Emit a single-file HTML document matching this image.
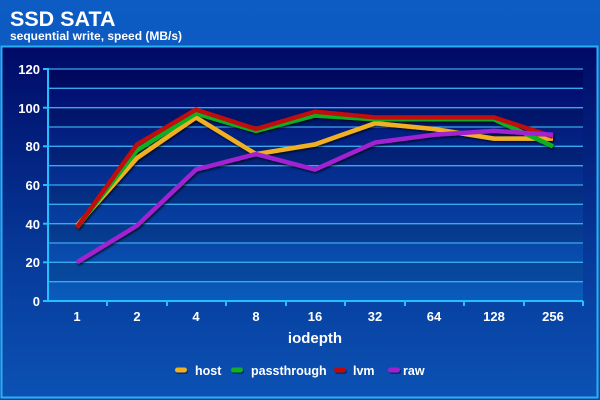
<!DOCTYPE html>
<html><head><style>
html,body{margin:0;padding:0;width:600px;height:400px;overflow:hidden;background:#0a4fb0}
text{font-family:"Liberation Sans",Arial,sans-serif;font-weight:bold;fill:#fff}
</style></head><body>
<svg width="600" height="400" viewBox="0 0 600 400" xmlns="http://www.w3.org/2000/svg">
<defs>
<linearGradient id="bg" x1="0" y1="0" x2="0" y2="1">
<stop offset="0" stop-color="#0c5cc4"/><stop offset="1" stop-color="#0a4aae"/></linearGradient>
<linearGradient id="pn" x1="0" y1="0" x2="0" y2="1">
<stop offset="0" stop-color="#000a66"/><stop offset="0.6" stop-color="#063a9a"/><stop offset="1" stop-color="#0b52b4"/></linearGradient>
<linearGradient id="pl" x1="0" y1="0" x2="0" y2="1">
<stop offset="0" stop-color="#00086a"/><stop offset="1" stop-color="#0a5cbc"/></linearGradient>
<filter id="sh" x="-10%" y="-10%" width="120%" height="120%"><feDropShadow dx="1" dy="1.5" stdDeviation="1" flood-color="#000" flood-opacity="0.7"/></filter>
</defs>
<rect width="600" height="400" fill="url(#bg)"/>
<text x="10" y="26" font-size="21.5">SSD SATA</text>
<text x="10" y="40" font-size="12">sequential write, speed (MB/s)</text>
<rect x="1.5" y="46.5" width="596" height="351" fill="url(#pn)" stroke="#2ab0f0" stroke-width="2"/>
<rect x="48" y="69" width="535" height="232" fill="url(#pl)"/>
<g fill="#000" opacity="0.12">
<rect x="48" y="69" width="535" height="19.3"/><rect x="48" y="107.7" width="535" height="19.3"/><rect x="48" y="146.3" width="535" height="19.3"/><rect x="48" y="185" width="535" height="19.3"/><rect x="48" y="223.7" width="535" height="19.3"/><rect x="48" y="262.3" width="535" height="19.3"/>
</g>
<g stroke="#3aa8ee" stroke-width="1.3">
<line x1="48" y1="69" x2="583" y2="69"/><line x1="48" y1="88.3" x2="583" y2="88.3"/><line x1="48" y1="107.7" x2="583" y2="107.7"/><line x1="48" y1="127" x2="583" y2="127"/><line x1="48" y1="146.3" x2="583" y2="146.3"/><line x1="48" y1="165.7" x2="583" y2="165.7"/><line x1="48" y1="185" x2="583" y2="185"/><line x1="48" y1="204.3" x2="583" y2="204.3"/><line x1="48" y1="223.7" x2="583" y2="223.7"/><line x1="48" y1="243" x2="583" y2="243"/><line x1="48" y1="262.3" x2="583" y2="262.3"/><line x1="48" y1="281.7" x2="583" y2="281.7"/>
</g>
<g stroke="#22c0ff" stroke-width="2">
<line x1="48" y1="68" x2="48" y2="302"/><line x1="47" y1="301" x2="583" y2="301"/>
<line x1="43" y1="69" x2="48" y2="69"/><line x1="43" y1="107.7" x2="48" y2="107.7"/><line x1="43" y1="146.3" x2="48" y2="146.3"/><line x1="43" y1="185" x2="48" y2="185"/><line x1="43" y1="223.7" x2="48" y2="223.7"/><line x1="43" y1="262.3" x2="48" y2="262.3"/><line x1="43" y1="301" x2="48" y2="301"/>
<line x1="107" y1="301" x2="107" y2="306"/><line x1="167" y1="301" x2="167" y2="306"/><line x1="226" y1="301" x2="226" y2="306"/><line x1="286" y1="301" x2="286" y2="306"/><line x1="345" y1="301" x2="345" y2="306"/><line x1="405" y1="301" x2="405" y2="306"/><line x1="464" y1="301" x2="464" y2="306"/><line x1="524" y1="301" x2="524" y2="306"/><line x1="583" y1="301" x2="583" y2="306"/>
</g>
<g font-size="13" text-anchor="end">
<text x="40" y="74">120</text><text x="40" y="113">100</text><text x="40" y="151">80</text><text x="40" y="190">60</text><text x="40" y="229">40</text><text x="40" y="267">20</text><text x="40" y="306">0</text>
</g>
<g font-size="13" text-anchor="middle">
<text x="77" y="321">1</text><text x="137" y="321">2</text><text x="196" y="321">4</text><text x="256" y="321">8</text><text x="315" y="321">16</text><text x="375" y="321">32</text><text x="434" y="321">64</text><text x="494" y="321">128</text><text x="553" y="321">256</text>
<text x="315" y="343" font-size="15">iodepth</text>
</g>
<g fill="none" stroke-width="4.5" stroke-linejoin="round" filter="url(#sh)">
<polyline stroke="#f0b020" points="77,225.6 137,158 196,117.4 256,154.1 315,144.4 375,123.2 434,129 494,138.6 553,138.6"/>
<polyline stroke="#10b020" points="77,227.5 137,150.3 196,113.5 256,130.9 315,115.5 375,119.3 434,119.3 494,119.3 553,146.3"/>
<polyline stroke="#c00808" points="77,227.5 137,144.4 196,109.6 256,129 315,111.6 375,117.4 434,117.4 494,117.4 553,136.7"/>
<polyline stroke="#a020d0" points="77,262.3 137,225.6 196,169.6 256,154.1 315,169.6 375,142.5 434,134.8 494,130.9 553,134.8"/>
</g>
<g>
<rect x="175" y="367.5" width="12" height="5" rx="2.5" fill="#0a2a70" transform="translate(1,1.5)"/>
<rect x="175" y="367.5" width="12" height="5" rx="2.5" fill="#f0b020"/>
<rect x="231" y="367.5" width="12" height="5" rx="2.5" fill="#0a2a70" transform="translate(1,1.5)"/>
<rect x="231" y="367.5" width="12" height="5" rx="2.5" fill="#10b020"/>
<rect x="334" y="367.5" width="12" height="5" rx="2.5" fill="#0a2a70" transform="translate(1,1.5)"/>
<rect x="334" y="367.5" width="12" height="5" rx="2.5" fill="#c00808"/>
<rect x="388" y="367.5" width="12" height="5" rx="2.5" fill="#0a2a70" transform="translate(1,1.5)"/>
<rect x="388" y="367.5" width="12" height="5" rx="2.5" fill="#a020d0"/>
</g>
<g font-size="12.5">
<text x="195" y="375">host</text><text x="251" y="375">passthrough</text><text x="353" y="375">lvm</text><text x="403" y="375">raw</text>
</g>
</svg>
</body></html>
